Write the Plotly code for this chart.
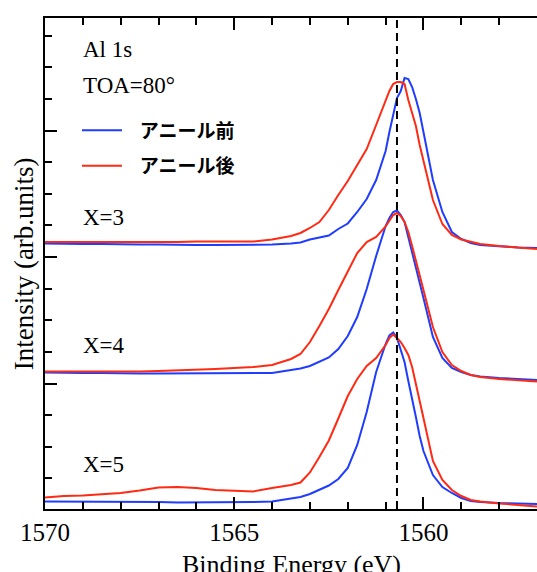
import plotly.graph_objects as go

# ---- data (binding energy in eV, intensity in arb. units, spectra already stacked) ----
energy = [1570, 1569.5, 1569, 1568.5, 1568, 1567.5, 1567, 1566.5, 1566, 1565.5,
          1565, 1564.5, 1564, 1563.5, 1563.25, 1563, 1562.75, 1562.5, 1562.25, 1562,
          1561.75, 1561.5, 1561.25, 1561, 1560.9, 1560.8, 1560.7, 1560.6, 1560.5, 1560.4,
          1560.3, 1560.2, 1560.1, 1560, 1559.75, 1559.5, 1559.25, 1559, 1558.75, 1558.5,
          1558, 1557.5, 1557]

x3_before = [266.5, 266, 266, 266, 265.5, 265.5, 265.5, 265, 265, 265,
             265, 265, 265.5, 266.5, 267.5, 270.5, 272.5, 274.5, 281, 286.5,
             298, 311, 330, 359, 378, 395, 412, 419, 432, 431,
             423, 411, 397, 378, 330, 298, 278, 271, 267, 265,
             263.5, 262.5, 262]
x3_after = [268, 268, 267.5, 267.5, 267.5, 268, 268, 268, 268.5, 268.5,
            268.5, 268.5, 270.5, 274, 277, 282, 288, 300, 315, 329,
            345, 361, 385, 410, 419, 426, 428, 428, 426, 410,
            398, 384, 365, 350, 310, 286, 275, 270.5, 268, 266,
            264, 262.5, 261]

x4_before = [137.5, 137, 137, 137, 136.5, 136.5, 136.5, 136.5, 136.5, 136.5,
             136.5, 136.5, 137, 140, 141.5, 144, 148, 152.5, 161, 174,
             193, 221, 254, 284, 292, 298, 299.5, 295, 288, 273,
             259, 244, 228, 212, 173, 152, 142, 138, 135, 133.5,
             132, 131, 130]
x4_after = [138.5, 138.5, 138, 138, 138.5, 138.5, 139, 139.5, 140, 141,
            142, 143, 145, 151, 156, 168, 184, 201, 220, 239,
            257, 268, 273, 283.5, 289, 295, 297, 294, 288, 278,
            264, 250, 235, 220, 183, 158, 145, 139, 135, 133,
            131, 129.5, 128.5]

x5_before = [8.5, 8.5, 8.5, 8, 8, 8, 8, 7.5, 7.5, 7.5,
             8, 8, 8.5, 12, 13, 16, 20, 24.5, 31, 42,
             65, 98, 138, 166, 174.5, 177.5, 172, 160, 148, 129,
             112, 93, 74, 59, 35, 23, 17, 12, 9, 8,
             7, 6.5, 6]
x5_after = [12.5, 14, 14.5, 16, 17, 19.5, 22.5, 23, 22, 20,
            19, 18.5, 22, 25, 27.5, 37.5, 53, 69.5, 91.5, 114,
            131, 144, 152, 165, 172, 175.5, 172, 168, 162, 155,
            143, 127, 110, 92, 49, 30, 20, 14, 10, 8.5,
            6.5, 5, 3.5]

sample_labels = ["X=3", "X=4", "X=5"]
label_levels = [293, 165, 46]
series_names = ["アニール前", "アニール後"]
x_title = "Binding Energy (eV)"
y_title = "Intensity (arb.units)"
ref_energy = 1560.7
x_range = [1570, 1557]
y_range = [1, 492]

BLUE = "#1f3cff"
RED = "#ff2a14"
SERIF = "Liberation Serif, Times New Roman, serif"
CJK = "Noto Sans CJK JP, sans-serif"
PAD = "\u00a0" * 3

fig = go.Figure()
pairs = [(x3_before, x3_after), (x4_before, x4_after), (x5_before, x5_after)]
for i, (before, after) in enumerate(pairs):
    fig.add_trace(go.Scatter(x=energy, y=before, mode="lines", name=PAD + "<b>" + series_names[0] + "</b>",
                             legendgroup="before", showlegend=(i == 0),
                             line=dict(color=BLUE, width=2)))
    fig.add_trace(go.Scatter(x=energy, y=after, mode="lines", name=PAD + "<b>" + series_names[1] + "</b>",
                             legendgroup="after", showlegend=(i == 0),
                             line=dict(color=RED, width=2)))

fig.add_shape(type="line", xref="x", yref="paper", x0=ref_energy, x1=ref_energy, y0=0, y1=1,
              line=dict(color="black", width=2, dash="8px,5px"))

annots = [("Al 1s", 461), ("TOA=80°", 425)] + list(zip(sample_labels, label_levels))
for txt, yv in annots:
    fig.add_annotation(text=txt, x=1569.05, y=yv, xref="x", yref="y", xanchor="left", yanchor="middle",
                       showarrow=False, font=dict(family=SERIF, size=23, color="black"))

# axis titles (placed as annotations so they can sit exactly where the reference has them)
fig.add_annotation(text=x_title, x=0.5, y=-0.113, xref="paper", yref="paper",
                   xanchor="center", yanchor="middle", showarrow=False,
                   font=dict(family=SERIF, size=26, color="black"))
fig.add_annotation(text=y_title, x=-0.043, y=0.5, xref="paper", yref="paper", textangle=-90,
                   xanchor="center", yanchor="middle", showarrow=False,
                   font=dict(family=SERIF, size=27, color="black"))

axis_common = dict(showgrid=False, zeroline=False, linecolor="black", linewidth=2, automargin=False,
                   tickcolor="black", tickwidth=2, ticklen=12, ticks="inside")

fig.update_layout(
    width=537, height=572,
    margin=dict(l=45, r=0, t=18, b=63, autoexpand=False),
    paper_bgcolor="white", plot_bgcolor="white",
    font=dict(family=SERIF, color="black", size=25),
    showlegend=True,
    legend=dict(x=0.065, y=0.81, xanchor="left", yanchor="top", bgcolor="rgba(0,0,0,0)",
                font=dict(family=CJK, size=19, color="black"), traceorder="grouped",
                tracegroupgap=8, itemwidth=40),
    xaxis=dict(range=x_range, tick0=1570, dtick=5, showline=True, mirror="ticks",
               tickfont=dict(family=SERIF, size=25), ticklabelstandoff=0,
               minor=dict(dtick=1, ticks="inside", ticklen=7, tickwidth=2, tickcolor="black"),
               **axis_common),
    yaxis=dict(range=y_range, tick0=0, dtick=126.5, showline=True, showticklabels=False,
               minor=dict(dtick=31.625, ticks="inside", ticklen=7, tickwidth=2, tickcolor="black"),
               **axis_common),
    yaxis2=dict(overlaying="y", side="right", range=y_range, tick0=0, dtick=126.5,
                showline=False, showticklabels=False, automargin=False,
                minor=dict(dtick=31.625, ticks="inside", ticklen=7, tickwidth=2, tickcolor="black"),
                showgrid=False, zeroline=False, tickcolor="black", tickwidth=2, ticklen=12, ticks="inside"),
)

fig.write_html("out.html", config={"displayModeBar": False},
               post_script="document.body.style.margin='0';document.body.style.overflow='hidden';")
